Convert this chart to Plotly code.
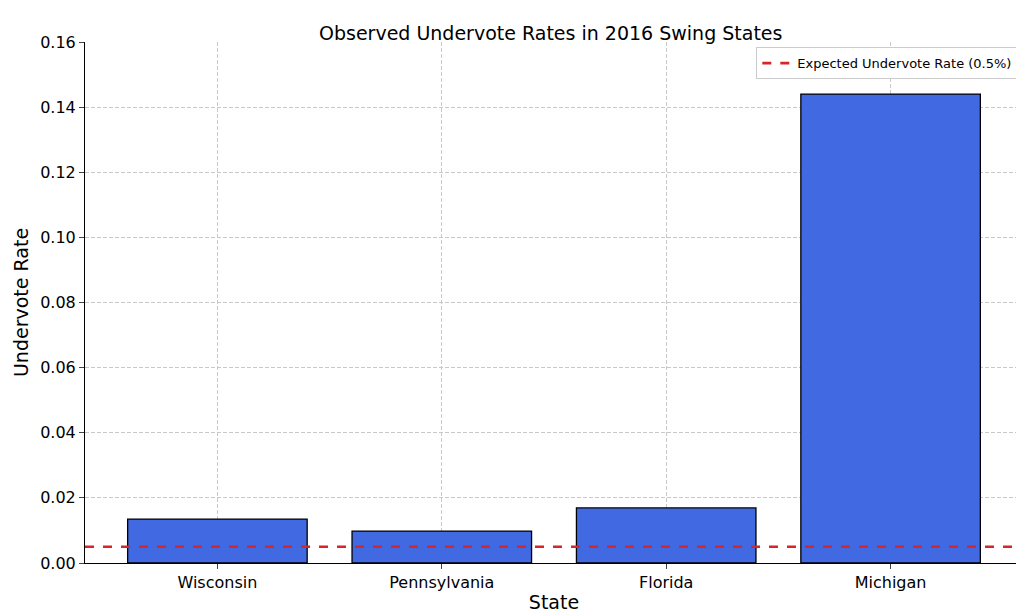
import plotly.graph_objects as go

states = ["Wisconsin", "Pennsylvania", "Florida", "Michigan"]
undervote_rates = [0.0135, 0.0098, 0.0169, 0.144]
expected_rate = 0.005
y_ticks = [0.0, 0.02, 0.04, 0.06, 0.08, 0.10, 0.12, 0.14, 0.16]

x_pos = list(range(len(states)))
x_lo, x_hi = -0.59, len(states) - 1 + 0.59

fig = go.Figure()
fig.add_trace(go.Bar(
    x=x_pos, y=undervote_rates, width=0.8,
    marker=dict(color="#4169E1", line=dict(color="black", width=1.3)),
    showlegend=False,
))
fig.add_trace(go.Scatter(
    x=[x_lo, x_hi], y=[expected_rate, expected_rate], mode="lines",
    line=dict(color="#D62728", width=2.6, dash="dash"),
    name="Expected Undervote Rate (0.5%)",
))

fig.update_layout(
    width=1024, height=610,
    font=dict(family="DejaVu Sans", size=16, color="black"),
    paper_bgcolor="white", plot_bgcolor="white",
    margin=dict(l=77, r=9, t=34, b=55, autoexpand=False),
    title=dict(text="Observed Undervote Rates in 2016 Swing States",
               x=0.53, xanchor="center", y=0.97, font=dict(size=19)),
    legend=dict(x=0.995, y=0.99, xanchor="right", yanchor="top",
                bordercolor="#cccccc", borderwidth=1, font=dict(size=13)),
)
fig.update_xaxes(
    range=[x_lo, x_hi], tickvals=x_pos, ticktext=states, automargin=False,
    title=dict(text="State", standoff=4), showline=True, linecolor="black",
    ticks="outside", showgrid=True, gridcolor="#c8c8c8", griddash="4px,2px",
    zeroline=False,
)
fig.update_yaxes(
    range=[0, 0.16], tickvals=y_ticks, tickformat=".2f", automargin=False,
    title=dict(text="Undervote Rate", standoff=6), showline=True, linecolor="black",
    ticks="outside", showgrid=True, gridcolor="#c8c8c8", griddash="4px,2px",
    zeroline=False,
)

fig.write_html("out.html")
